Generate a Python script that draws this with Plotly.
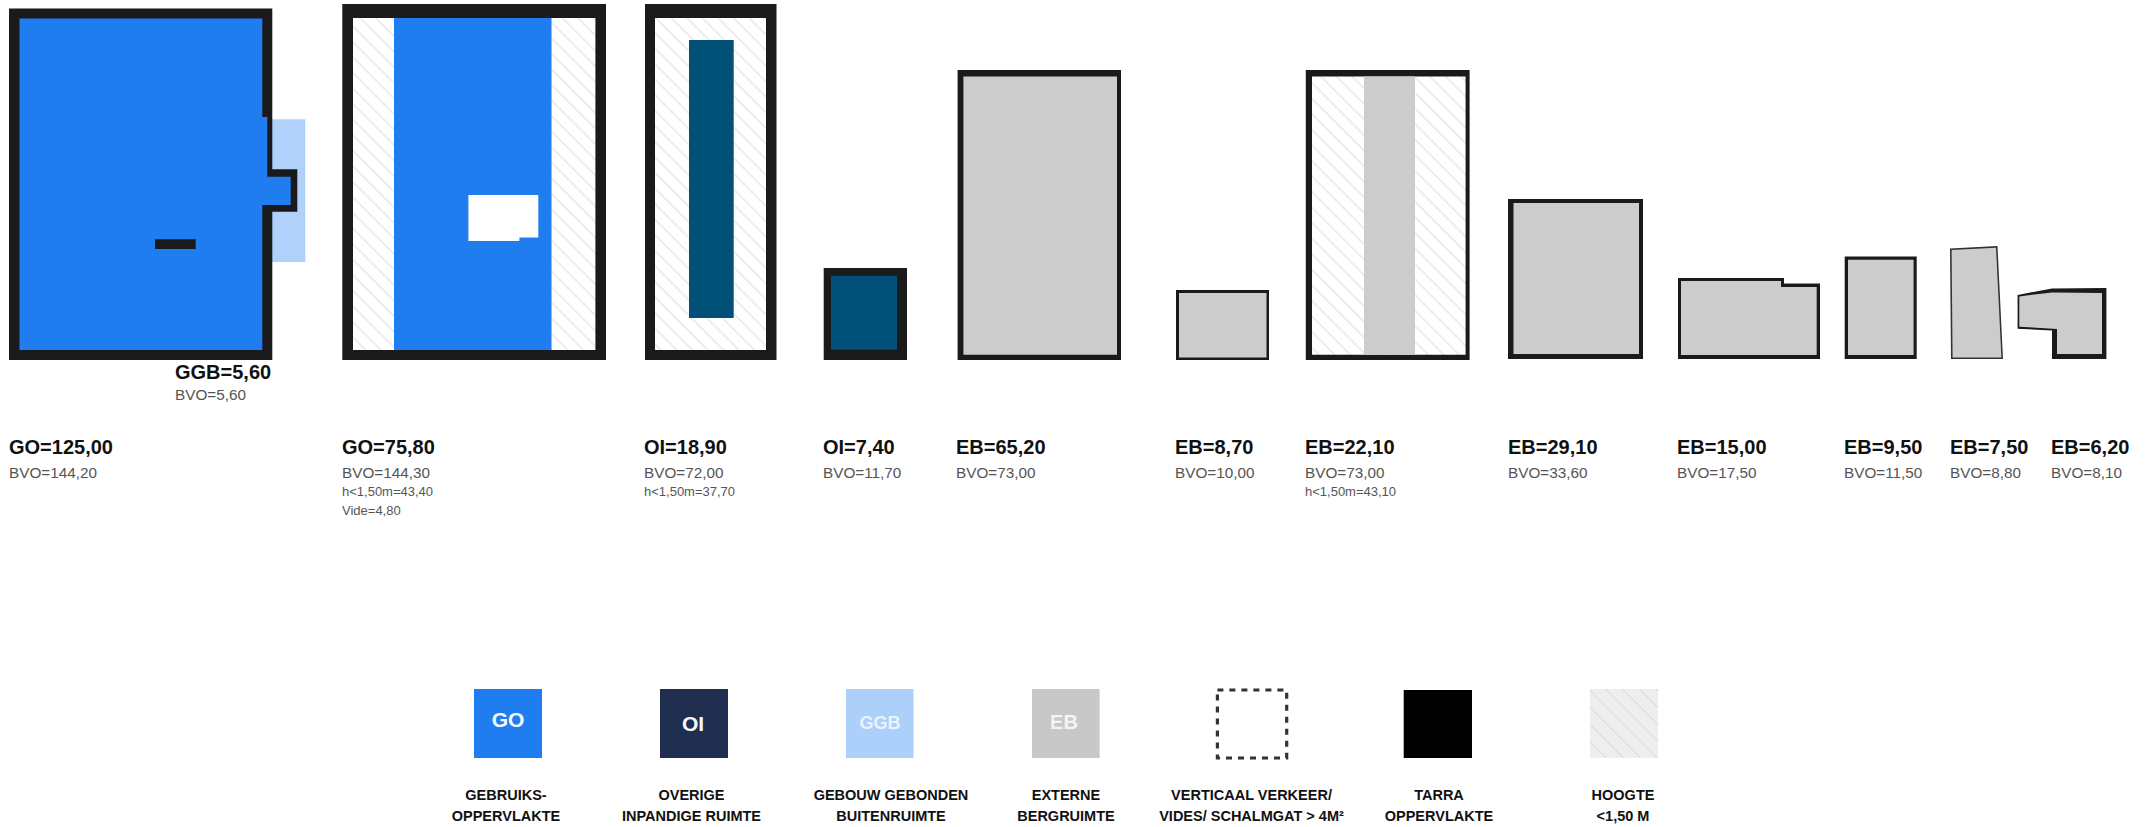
import plotly.graph_objects as go

# ---- values and texts ----
main_labels = ["GO=125,00", "GO=75,80", "OI=18,90", "OI=7,40", "EB=65,20", "EB=8,70",
               "EB=22,10", "EB=29,10", "EB=15,00", "EB=9,50", "EB=7,50", "EB=6,20"]
bvo_labels = ["BVO=144,20", "BVO=144,30", "BVO=72,00", "BVO=11,70", "BVO=73,00", "BVO=10,00",
              "BVO=73,00", "BVO=33,60", "BVO=17,50", "BVO=11,50", "BVO=8,80", "BVO=8,10"]
low_labels = ["h<1,50m=43,40", "h<1,50m=37,70", "h<1,50m=43,10"]
vide_label = "Vide=4,80"
ggb_main = "GGB=5,60"
ggb_bvo = "BVO=5,60"
legend_codes = ["GO", "OI", "GGB", "EB"]
legend_line1 = ["GEBRUIKS-", "OVERIGE", "GEBOUW GEBONDEN", "EXTERNE",
                "VERTICAAL VERKEER/", "TARRA", "HOOGTE"]
legend_line2 = ["OPPERVLAKTE", "INPANDIGE RUIMTE", "BUITENRUIMTE", "BERGRUIMTE",
                "VIDES/ SCHALMGAT > 4M²", "OPPERVLAKTE", "<1,50 M"]

# ---- drawing layout (page pixels) ----
BLUE, TEAL, DARK, GREY, LIGHT = "#1F7DF0", "#005078", "#1A1A1C", "#CCCCCC", "#B0D2FA"
label_x = [9, 342, 644, 823, 956, 1175, 1305, 1508, 1677, 1844, 1950, 2051]
low_x = [342, 644, 1305]
legend_x = [506, 691.5, 891, 1066, 1251.5, 1439, 1623]
PLAN_HATCH = dict(shape="\\", fgcolor="#D6D6D6", size=11, solidity=0.16)
LEGEND_HATCH = dict(shape="\\", fgcolor="#B4B4B4", size=12, solidity=0.08)

fig = go.Figure()


def poly(pts, color=None, hatch=None, bg="#FFFFFF", line=None):
    xs = [p[0] for p in pts] + [pts[0][0]]
    ys = [p[1] for p in pts] + [pts[0][1]]
    kw = dict(x=xs, y=ys, mode="lines", hoverinfo="skip", showlegend=False)
    kw["line"] = line if line else dict(width=0)
    if color or hatch:
        kw["fill"] = "toself"
        kw["fillcolor"] = color or bg
    if hatch:
        kw["fillpattern"] = dict(bgcolor=bg, **hatch)
    fig.add_trace(go.Scatter(**kw))


def rect(x0, y0, x1, y1, color=None, hatch=None, bg="#FFFFFF"):
    poly([(x0, y0), (x1, y0), (x1, y1), (x0, y1)], color, hatch, bg)


# plan 1
rect(272, 119.3, 305.3, 262, LIGHT)
poly([(9, 8.5), (272.3, 8.5), (272.3, 169.3), (297.3, 169.3), (297.3, 211.7), (272.3, 211.7),
      (272.3, 360), (9, 360)], DARK)
poly([(19.5, 18.5), (262.3, 18.5), (262.3, 117), (267.3, 117), (267.3, 176.7), (290.7, 176.7),
      (290.7, 205), (262.3, 205), (262.3, 350), (19.5, 350)], BLUE)
rect(155, 239.3, 195.7, 249, DARK)
# plan 2
rect(342.3, 4, 606, 360, DARK)
rect(353, 18, 595.4, 350, hatch=PLAN_HATCH)
rect(394, 18, 551.5, 350, BLUE)
poly([(468.4, 195), (538.3, 195), (538.3, 237.5), (519.4, 237.5), (519.4, 241), (468.4, 241)], "#FFFFFF")
# plan 3
rect(645, 4, 776.5, 360, DARK)
rect(655, 18, 766, 350, hatch=PLAN_HATCH)
rect(689, 40, 733.7, 318, TEAL)
# plan 4
rect(823.7, 268, 907, 360, DARK)
rect(831, 275.7, 897, 349.7, TEAL)
# plan 5
rect(957.6, 70, 1121, 360, DARK)
rect(963.4, 76.4, 1117, 354.7, GREY)
# plan 6
rect(1176, 290, 1269, 360, DARK)
rect(1179, 293, 1266.5, 357.5, GREY)
# plan 7
rect(1305.8, 70, 1469.6, 360, DARK)
rect(1312, 76.4, 1465.6, 354.7, hatch=PLAN_HATCH)
rect(1364, 76.4, 1415, 354.7, GREY)
# plan 8
rect(1508, 199, 1643, 359, DARK)
rect(1513.5, 203, 1639, 354, GREY)
# plan 9
poly([(1678, 278), (1784, 278), (1784, 283.5), (1820, 283.5), (1820, 359), (1678, 359)], DARK)
poly([(1681, 281), (1781, 281), (1781, 287), (1816.7, 287), (1816.7, 355), (1681, 355)], GREY)
# plan 10
rect(1844.7, 256.4, 1916.7, 359, DARK)
rect(1848, 259.7, 1913.6, 355, GREY)
# plan 11
poly([(1950, 248.5), (1997.5, 246), (2003, 359), (1951, 359)], "#333333")
poly([(1951.6, 250), (1996, 247.8), (2001.4, 357.6), (1952.6, 357.6)], GREY)
# plan 12
poly([(2017.6, 295), (2052, 288.4), (2106.4, 288), (2106.4, 359), (2052, 359), (2052, 330.4),
      (2017.6, 328.7)], DARK)
poly([(2019.3, 296.4), (2052, 292.4), (2102, 293), (2102, 354), (2057, 354), (2057, 329),
      (2019.3, 326.7)], GREY)

# legend swatches
rect(474, 689, 542, 758, BLUE)
rect(660, 689, 728, 758, "#1F2E4E")
rect(846, 689, 913.5, 758, "#ACD0FA")
rect(1032, 689, 1099.6, 758, "#C8C8C8")
poly([(1217.4, 690), (1286.7, 690), (1286.7, 758), (1217.4, 758)],
     line=dict(color="#333333", width=3.2, dash="6px,6px"))
rect(1403.7, 690, 1472, 758, "#000000")
rect(1590, 689, 1658, 758, hatch=LEGEND_HATCH, bg="#EEEEEE")


def text_at(xs, ys, texts, size, color, bold=False, pos="middle right"):
    fig.add_trace(go.Scatter(
        x=xs, y=ys, text=[f"<b>{t}</b>" if bold else t for t in texts], mode="text",
        textposition=pos, textfont=dict(family="Liberation Sans", size=size, color=color),
        hoverinfo="skip", showlegend=False))


text_at(label_x, [449] * len(label_x), main_labels, 20, "#111111", True)
text_at(label_x, [474] * len(label_x), bvo_labels, 15.3, "#555555")
text_at(low_x, [493] * 3, low_labels, 13, "#555555")
text_at([342], [512], [vide_label], 13, "#555555")
text_at([175], [374], [ggb_main], 20, "#111111", True)
text_at([175], [396], [ggb_bvo], 15.3, "#555555")
text_at([508], [722], [legend_codes[0]], 21, "#F4F8FF", True, "middle center")
text_at([693], [726], [legend_codes[1]], 21, "#F4F8FF", True, "middle center")
text_at([880], [724], [legend_codes[2]], 18, "#EAF3FE", True, "middle center")
text_at([1064], [724], [legend_codes[3]], 20, "#F4F4F4", True, "middle center")
text_at(legend_x, [796.5] * 7, legend_line1, 14.5, "#111111", True, "middle center")
text_at(legend_x, [817] * 7, legend_line2, 14.5, "#111111", True, "middle center")

fig.update_layout(
    width=2147, height=827, margin=dict(l=0, r=0, t=0, b=0),
    paper_bgcolor="#FFFFFF", plot_bgcolor="#FFFFFF", showlegend=False,
    xaxis=dict(visible=False, range=[0, 2147], fixedrange=True),
    yaxis=dict(visible=False, range=[827, 0], fixedrange=True),
)
fig.write_html("out.html", config={"displayModeBar": False},
               post_script="document.body.style.margin='0';")
